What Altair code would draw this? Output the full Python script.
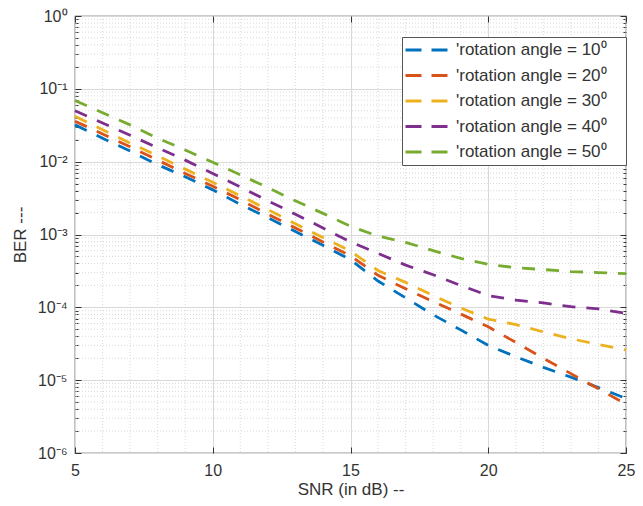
import json
import altair as alt
import pandas as pd

# ---------------- data ----------------
snr = [5, 6, 7, 8, 9, 10, 11, 12, 13, 14, 15, 16, 17, 18, 19, 20, 21, 22, 23, 24, 25]

ber_10 = [3.2e-2, 2.1e-2, 1.4e-2, 9.1e-3, 6.2e-3, 4.1e-3, 2.6e-3, 1.7e-3, 1.1e-3, 7.1e-4,
          4.5e-4, 2.3e-4, 1.35e-4, 7.9e-5, 4.9e-5, 3.0e-5, 2.1e-5, 1.5e-5, 1.1e-5, 7.9e-6, 5.6e-6]
ber_20 = [3.6e-2, 2.4e-2, 1.6e-2, 1.05e-2, 6.9e-3, 4.6e-3, 3.0e-3, 1.9e-3, 1.23e-3, 7.9e-4,
          5.1e-4, 2.75e-4, 1.8e-4, 1.2e-4, 8.1e-5, 5.4e-5, 3.3e-5, 2.0e-5, 1.23e-5, 7.6e-6, 4.7e-6]
ber_30 = [4.2e-2, 2.75e-2, 1.8e-2, 1.2e-2, 7.9e-3, 5.2e-3, 3.4e-3, 2.2e-3, 1.4e-3, 9.1e-4,
          5.9e-4, 3.2e-4, 2.2e-4, 1.45e-4, 9.8e-5, 6.9e-5, 5.8e-5, 4.6e-5, 3.7e-5, 3.1e-5, 2.6e-5]
ber_40 = [5.0e-2, 3.4e-2, 2.3e-2, 1.55e-2, 1.05e-2, 6.9e-3, 4.5e-3, 2.9e-3, 1.9e-3, 1.23e-3,
          7.9e-4, 5.5e-4, 3.8e-4, 2.8e-4, 2.0e-4, 1.45e-4, 1.26e-4, 1.15e-4, 1.02e-4, 9.5e-5, 8.3e-5]
ber_50 = [6.9e-2, 4.7e-2, 3.2e-2, 2.1e-2, 1.45e-2, 9.8e-3, 6.6e-3, 4.4e-3, 2.9e-3, 1.95e-3,
          1.3e-3, 9.5e-4, 7.8e-4, 6.0e-4, 4.7e-4, 3.9e-4, 3.5e-4, 3.3e-4, 3.1e-4, 3.0e-4, 2.9e-4]

series_labels = ["'rotation angle = 10\u2070", "'rotation angle = 20\u2070",
                 "'rotation angle = 30\u2070", "'rotation angle = 40\u2070",
                 "'rotation angle = 50\u2070"]
series_colors = ["#0072BD", "#D95319", "#EDB120", "#7E2F8E", "#77AC30"]

x_major = [5, 10, 15, 20, 25]
x_minor = [6, 7, 8, 9, 11, 12, 13, 14, 16, 17, 18, 19, 21, 22, 23, 24]
y_major = [1e-6, 1e-5, 1e-4, 1e-3, 1e-2, 1e-1, 1]
y_tick_labels = ["10\u2070", "10\u207b\u00b9", "10\u207b\u00b2", "10\u207b\u00b3",
                 "10\u207b\u2074", "10\u207b\u2075", "10\u207b\u2076"]
y_minor = [m * d for d in [1e-6, 1e-5, 1e-4, 1e-3, 1e-2, 1e-1] for m in [2, 3, 4, 5, 6, 7, 8, 9]]

# ---------------- tables ----------------
rows = []
for lab, vals in zip(series_labels, [ber_10, ber_20, ber_30, ber_40, ber_50]):
    for s, v in zip(snr, vals):
        rows.append({"snr": s, "ber": v, "series": lab})
df = pd.DataFrame(rows)

FONT = "Liberation Sans"
TXT = "#333333"

xscale = alt.Scale(domain=[5, 25], nice=False, zero=False)
yscale = alt.Scale(type="log", domain=[1e-6, 1], nice=False)

# minor grid
minor_y = alt.Chart(pd.DataFrame({"v": y_minor})).mark_rule(
    stroke="#cfcfcf", strokeWidth=0.8, strokeDash=[1, 2]
).encode(y=alt.Y("v:Q", scale=yscale, axis=None))

minor_x = alt.Chart(pd.DataFrame({"v": x_minor})).mark_rule(
    stroke="#cfcfcf", strokeWidth=0.8, strokeDash=[1, 2]
).encode(x=alt.X("v:Q", scale=xscale, axis=None))

label_expr = json.dumps(y_tick_labels) + "[round(-log(datum.value)/LN10)]"

lines = alt.Chart(df).mark_line(strokeWidth=2.8, strokeDash=[13, 11]).encode(
    x=alt.X("snr:Q", scale=xscale,
            axis=alt.Axis(orient="bottom", values=x_major, title="SNR (in dB) --",
                          ticks=False, domain=False, grid=True, gridColor="#d9d9d9",
                          labelFlush=False, labelPadding=9, titlePadding=3,
                          labelFontSize=16, titleFontSize=17)),
    y=alt.Y("ber:Q", scale=yscale,
            axis=alt.Axis(orient="left", values=y_major, title="BER ---",
                          labelExpr=label_expr, ticks=False, domain=False, grid=True,
                          gridColor="#d9d9d9", labelPadding=8, titlePadding=8,
                          labelFontSize=16, titleFontSize=17)),
    color=alt.Color("series:N",
                    scale=alt.Scale(domain=series_labels, range=series_colors),
                    legend=alt.Legend(title=None, orient="none", legendX=327, legendY=21,
                                      symbolType="stroke", symbolSize=1764,
                                      symbolStrokeWidth=2.8, symbolDash=[16, 10],
                                      labelFont=FONT, labelFontSize=17, labelColor=TXT,
                                      labelOffset=7, clipHeight=22, rowPadding=3.5,
                                      labelLimit=400,
                                      labelExpr="datum.label + '\u2003\u200b'",
                                      fillColor="white", strokeColor="#555555",
                                      padding=2)),
    detail="series:N",
)

def tick_layer(xaxis, yaxis):
    return alt.Chart(df).mark_point(opacity=0, size=1).encode(
        x=alt.X("snr:Q", scale=xscale, axis=xaxis),
        y=alt.Y("ber:Q", scale=yscale, axis=yaxis),
    )

tick_common = dict(labels=False, domain=False, grid=False, title=None, tickColor=TXT)
ticks_lb = tick_layer(
    alt.Axis(orient="bottom", offset=-6, tickSize=6, values=x_major, **tick_common),
    alt.Axis(orient="left", offset=-6, tickSize=6, values=y_major, **tick_common))
ticks_rt = tick_layer(
    alt.Axis(orient="top", offset=-6, tickSize=6, values=x_major, **tick_common),
    alt.Axis(orient="right", offset=-6, tickSize=6, values=y_major, **tick_common))
ticks_minor = tick_layer(
    None,
    alt.Axis(orient="left", offset=-3, tickSize=3, values=y_minor, **tick_common))
ticks_minor_r = tick_layer(
    None,
    alt.Axis(orient="right", offset=-3, tickSize=3, values=y_minor, **tick_common))

chart = alt.layer(minor_y, minor_x, lines, ticks_lb, ticks_rt, ticks_minor, ticks_minor_r).resolve_axis(
    x="independent", y="independent"
).properties(
    width=551, height=437,
    autosize=alt.AutoSizeParams(type="none"),
    padding={"left": 67, "top": 8, "right": 9, "bottom": 45},
    background="white",
).configure_view(stroke="#333333", strokeWidth=1.2).configure_axis(
    labelFont=FONT, titleFont=FONT,
    labelColor=TXT, titleColor=TXT, titleFontWeight="normal",
)

chart.save("out.html", embed_options={"renderer": "svg", "actions": False})
